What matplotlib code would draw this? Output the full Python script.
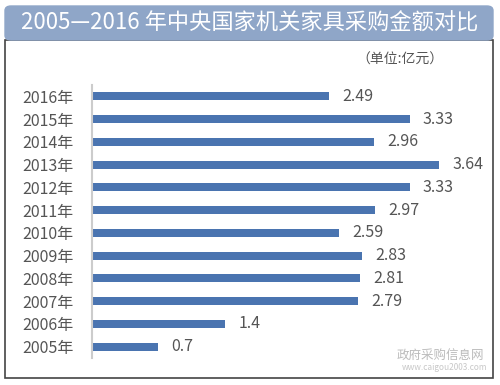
import matplotlib
matplotlib.use('Agg')
import matplotlib.pyplot as plt
from matplotlib.patches import FancyBboxPatch, Rectangle

plt.rcParams['font.family'] = ['Noto Sans CJK SC', 'DejaVu Sans']

years = ['2005年', '2006年', '2007年', '2008年', '2009年', '2010年',
         '2011年', '2012年', '2013年', '2014年', '2015年', '2016年']
amounts = [0.7, 1.4, 2.79, 2.81, 2.83, 2.59, 2.97, 3.33, 3.64, 2.96, 3.33, 2.49]
labels = ['0.7', '1.4', '2.79', '2.81', '2.83', '2.59', '2.97', '3.33', '3.64', '2.96', '3.33', '2.49']

W, H = 500, 385
fig = plt.figure(figsize=(W / 100, H / 100), dpi=100)
fig.patch.set_facecolor('white')

# frame under the banner
fig.patches.append(Rectangle((5 / W, 1 - 378 / H), 488 / W, 338 / H, transform=fig.transFigure,
                             facecolor='none', edgecolor='#444444', linewidth=1.2, zorder=0))
# title banner
fig.patches.append(FancyBboxPatch((5 / W, 1 - 40 / H), 488 / W, 34 / H, transform=fig.transFigure,
                                  boxstyle='round,pad=0,rounding_size=0.012',
                                  facecolor='#8fa6c8', edgecolor='#8fa6c8', zorder=1))
fig.text(250 / W, 1 - 23 / H, '2005—2016 年中央国家机关家具采购金额对比', color='white',
         fontsize=16, ha='center', va='center')
fig.text(400 / W, 1 - 60 / H, '（单位:亿元）', color='#555555', fontsize=10, ha='center', va='center')

ax = fig.add_axes([91.5 / W, 1 - 358 / H, 382 / W, 273 / H])
ax.set_facecolor('none')
ax.barh(range(len(years)), amounts, height=0.36, color='#4a74b0')
for i, (v, s) in enumerate(zip(amounts, labels)):
    ax.text(v + 0.14, i, s, color='#555555', fontsize=11.5, va='center', ha='left')

ax.set_xlim(0, 4)
ax.set_ylim(-0.5, len(years) - 0.5)
ax.set_yticks(range(len(years)))
ax.set_yticklabels(years, color='#555555', fontsize=11.5)
ax.tick_params(axis='y', length=0, pad=13)
ax.set_xticks([])
for side in ['top', 'right', 'bottom']:
    ax.spines[side].set_visible(False)
ax.spines['left'].set_color('#cccccc')
ax.spines['left'].set_linewidth(1.5)

# watermark
fig.text(440 / W, 1 - 355 / H, '政府采购信息网', color='#bbbbbb', fontsize=9, ha='center', va='center')
fig.text(445 / W, 1 - 368 / H, 'www.caigou2003.com', color='#c8c8c8', fontsize=6, ha='center', va='center')

fig.savefig('out.png', dpi=100)
